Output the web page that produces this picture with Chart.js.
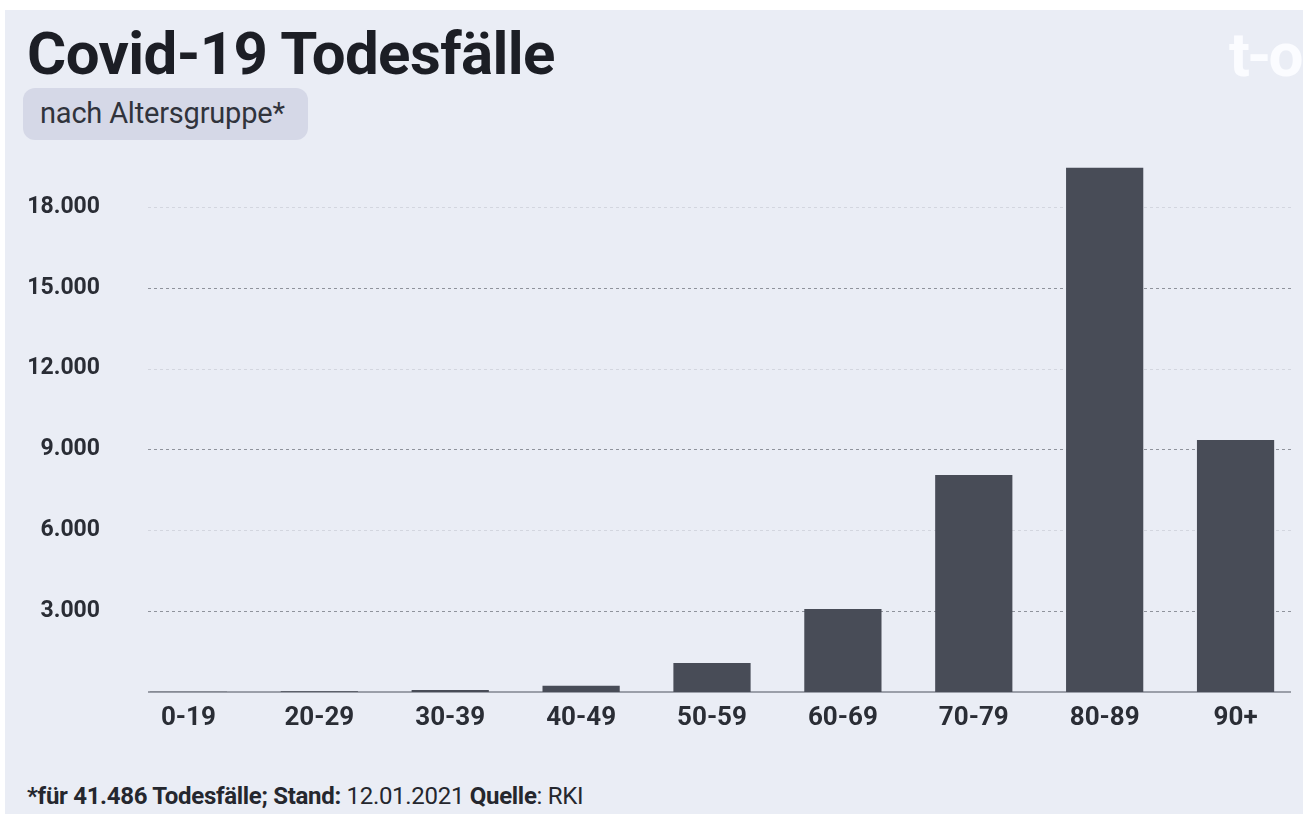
<!DOCTYPE html>
<html>
<head>
<meta charset="utf-8">
<script src="https://cdn.jsdelivr.net/npm/chart.js@4/dist/chart.umd.min.js"></script>
<style>
  html, body { margin: 0; padding: 0; background: #fff; }
  body { width: 1303px; height: 814px; position: relative; overflow: hidden; font-family: Roboto, "Noto Sans", sans-serif; }
  .card { position: absolute; left: 5px; top: 10px; right: 0; bottom: 0; background: #eaedf5; overflow: hidden; }
  .title { position: absolute; left: 22px; top: 8px; font-size: 60px; font-weight: 700; color: #1c1e25; letter-spacing: -0.6px; line-height: 72px; white-space: nowrap; }
  .pill { position: absolute; left: 18px; top: 78px; width: 285px; height: 52px; border-radius: 12px; background: #d5d8e7; }
  .pill span { position: absolute; left: 17px; top: 0; line-height: 50px; font-size: 29px; color: #30333c; white-space: nowrap; letter-spacing: -0.2px; }
  .logo { position: absolute; left: 1224px; top: 8px; font-size: 62px; font-weight: 700; color: #fbfcff; letter-spacing: -3px; white-space: nowrap; }
  .foot { position: absolute; left: 22px; top: 772px; font-size: 24px; color: #25272e; white-space: nowrap; letter-spacing: -0.3px; }
  .foot b { font-weight: 700; }
  canvas { position: absolute; left: 0; top: 0; }
</style>
</head>
<body>
<div class="card">
  <div class="title">Covid-19 Todesfälle</div>
  <div class="pill"><span>nach Altersgruppe*</span></div>
  <div class="logo">t-o</div>
  <div class="foot"><b>*für 41.486 Todesfälle; Stand:</b> 12.01.2021 <b>Quelle</b>: RKI</div>
</div>
<canvas id="bar-chart" width="1303" height="814"></canvas>
<script>
const ageGroups = ['0-19', '20-29', '30-39', '40-49', '50-59', '60-69', '70-79', '80-89', '90+'];
const deaths = [8, 25, 75, 230, 1080, 3080, 8050, 19450, 9350];
const yTicks = [3000, 6000, 9000, 12000, 15000, 18000];
const yTickLabels = ['3.000', '6.000', '9.000', '12.000', '15.000', '18.000'];

// dashed grid lines + solid baseline, narrower than the chart area
const gridLines = {
  id: 'gridLines',
  beforeDatasetsDraw(chart) {
    const { ctx, chartArea, scales } = chart;
    const x1 = chartArea.left + 25;
    const x2 = chartArea.right - 10;
    ctx.save();
    yTicks.forEach((v, i) => {
      const y = Math.round(scales.y.getPixelForValue(v)) + 0.5;
      ctx.beginPath();
      ctx.setLineDash([3, 3]);
      ctx.lineWidth = 1;
      ctx.strokeStyle = i % 2 === 0 ? '#8f939c' : '#d3d6df';
      ctx.moveTo(x1, y);
      ctx.lineTo(x2, y);
      ctx.stroke();
    });
    const y0 = Math.round(scales.y.getPixelForValue(0));
    ctx.beginPath();
    ctx.setLineDash([]);
    ctx.lineWidth = 2;
    ctx.strokeStyle = '#9b9fa9';
    ctx.moveTo(x1, y0);
    ctx.lineTo(x2, y0);
    ctx.stroke();
    ctx.restore();
  }
};

new Chart(document.getElementById('bar-chart'), {
  type: 'bar',
  data: {
    labels: ageGroups,
    datasets: [{
      data: deaths,
      backgroundColor: '#484c57',
      borderWidth: 0,
      barPercentage: 0.59,
      categoryPercentage: 1,
    }]
  },
  options: {
    responsive: false,
    devicePixelRatio: 1,
    animation: false,
    layout: { padding: { left: 0, right: 2, top: 153, bottom: 72 } },
    plugins: {
      legend: { display: false },
      tooltip: { enabled: false },
    },
    scales: {
      x: {
        grid: { display: false, drawTicks: false },
        border: { display: false },
        ticks: {
          padding: 11,
          color: '#2a2d35',
          font: { family: 'Roboto', size: 26, weight: 'bold' },
          maxRotation: 0,
        },
        afterFit: (scale) => { scale.height = 50; },
      },
      y: {
        min: 0,
        max: 20000,
        grid: { display: false, drawTicks: false },
        border: { display: false },
        afterBuildTicks: (scale) => { scale.ticks = yTicks.map(v => ({ value: v })); },
        ticks: {
          padding: 23,
          color: '#2a2d35',
          font: { family: 'Roboto', size: 23, weight: 'bold' },
          callback: (v) => yTickLabels[yTicks.indexOf(v)],
        },
        afterFit: (scale) => { scale.width = 123; },
      }
    }
  },
  plugins: [gridLines]
});
</script>
</body>
</html>
